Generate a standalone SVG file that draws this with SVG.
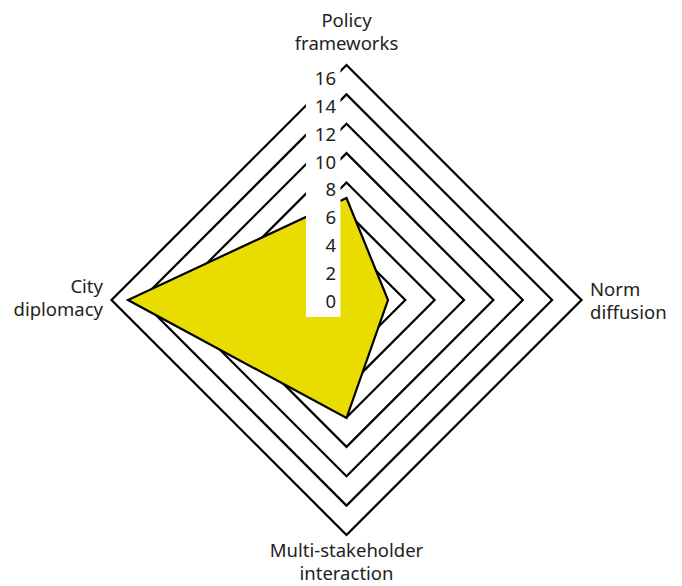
<svg xmlns="http://www.w3.org/2000/svg" width="682" height="586" viewBox="0 0 682 586">
<style>
.ring{fill:none;stroke:#000;stroke-width:2.2;stroke-linejoin:miter}
.lbl{font-family:"Noto Sans","Open Sans",sans-serif;font-size:18.5px;fill:#222}
.tick{font-family:"Noto Sans","Open Sans",sans-serif;font-size:18.5px;fill:#222;text-anchor:end}
</style>
<rect width="682" height="586" fill="#fff"/>
<g id="grid">
<polygon class="ring" points="346.5,65 581.5,300 346.5,535 111.5,300"/>
<polygon class="ring" points="346.5,94.4 552.1,300 346.5,505.6 140.9,300"/>
<polygon class="ring" points="346.5,123.8 522.8,300 346.5,476.2 170.2,300"/>
<polygon class="ring" points="346.5,153.1 493.4,300 346.5,446.9 199.6,300"/>
<polygon class="ring" points="346.5,182.5 464,300 346.5,417.5 229,300"/>
<polygon class="ring" points="346.5,211.9 434.6,300 346.5,388.1 258.4,300"/>
<polygon class="ring" points="346.5,241.3 405.3,300 346.5,358.8 287.8,300"/>
<polygon class="ring" points="346.5,270.6 375.9,300 346.5,329.4 317.1,300"/>
</g>
<g id="series">
<polygon points="346.5,198 388,300 346.5,418 128,300" fill="#e8dc00" stroke="#000" stroke-width="2.2" stroke-linejoin="miter"/>
</g>
<g id="ticks">
<rect x="306" y="64" width="34.5" height="253" fill="#fff"/>
<text class="tick" x="336" y="308">0</text>
<text class="tick" x="336" y="280.1">2</text>
<text class="tick" x="336" y="252.2">4</text>
<text class="tick" x="336" y="224.3">6</text>
<text class="tick" x="336" y="196.4">8</text>
<text class="tick" x="336" y="168.5">10</text>
<text class="tick" x="336" y="140.6">12</text>
<text class="tick" x="336" y="112.7">14</text>
<text class="tick" x="336" y="84.8">16</text>
</g>
<g id="axis-policy">
<text class="lbl" text-anchor="middle" x="346.5" y="27">Policy</text>
<text class="lbl" text-anchor="middle" x="346.5" y="50">frameworks</text>
</g>
<g id="axis-norm">
<text class="lbl" x="590" y="296">Norm</text>
<text class="lbl" x="590" y="319">diffusion</text>
</g>
<g id="axis-multi">
<text class="lbl" text-anchor="middle" x="346.5" y="557">Multi-stakeholder</text>
<text class="lbl" text-anchor="middle" x="346.5" y="580">interaction</text>
</g>
<g id="axis-city">
<text class="lbl" text-anchor="end" x="103" y="293">City</text>
<text class="lbl" text-anchor="end" x="103" y="316">diplomacy</text>
</g>
</svg>
